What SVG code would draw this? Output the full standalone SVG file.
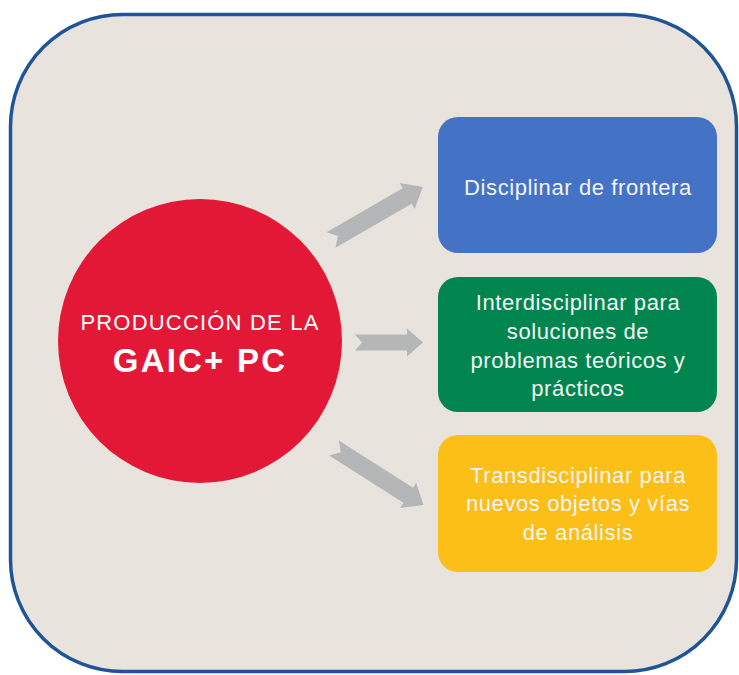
<svg xmlns="http://www.w3.org/2000/svg" width="739" height="675" viewBox="0 0 739 675">
<style>
.box-text{font-family:"Liberation Sans",Arial,sans-serif;font-size:22px;fill:#F4F4F4;text-anchor:middle;letter-spacing:0.6px}
.circ{font-family:"Liberation Sans",Arial,sans-serif;fill:#FFFFFF;text-anchor:middle}
.arrow{fill:#B5B6B8}
</style>
<defs>
<path id="arr" d="M0,-8 L52,-8 L52,-14 L68,0 L52,14 L52,8 L0,8 L7,0 Z"/>
<path id="arrLong" d="M0,-9 L88,-9 L88,-15 L106,0 L88,15 L88,9 L0,9 L8,0 Z"/>
</defs>
<rect id="frame" x="10.5" y="14.5" width="726" height="657" rx="112" ry="112" fill="#E8E4DD" stroke="#1F5597" stroke-width="3.5"/>
<g id="center">
<circle cx="200" cy="341" r="142" fill="#E31837"/>
<text class="circ" x="200" y="330" font-size="22" letter-spacing="1.2">PRODUCCIÓN DE LA</text>
<text class="circ" x="200" y="372" font-size="33" font-weight="bold" letter-spacing="2.2">GAIC+ PC</text>
</g>
<g id="box1">
<rect x="438" y="117" width="279" height="136" rx="20" fill="#4472C4"/>
<text class="box-text" x="578" y="195">Disciplinar de frontera</text>
</g>
<g id="box2">
<rect x="438" y="277" width="279" height="135" rx="20" fill="#00854F"/>
<text class="box-text" x="578" y="310">Interdisciplinar para</text>
<text class="box-text" x="578" y="339">soluciones de</text>
<text class="box-text" x="578" y="368">problemas teóricos y</text>
<text class="box-text" x="578" y="396">prácticos</text>
</g>
<g id="box3">
<rect x="438" y="435" width="279" height="137" rx="20" fill="#FBBF17"/>
<text class="box-text" x="578" y="483">Transdisciplinar para</text>
<text class="box-text" x="578" y="511">nuevos objetos y vías</text>
<text class="box-text" x="578" y="540">de análisis</text>
</g>
<g id="connectors">
<use href="#arrLong" class="arrow" transform="translate(331,240) rotate(-30)"/>
<use href="#arr" class="arrow" transform="translate(355,342.5)"/>
<use href="#arrLong" class="arrow" transform="translate(334,448) rotate(32.5)"/>
</g>
</svg>
